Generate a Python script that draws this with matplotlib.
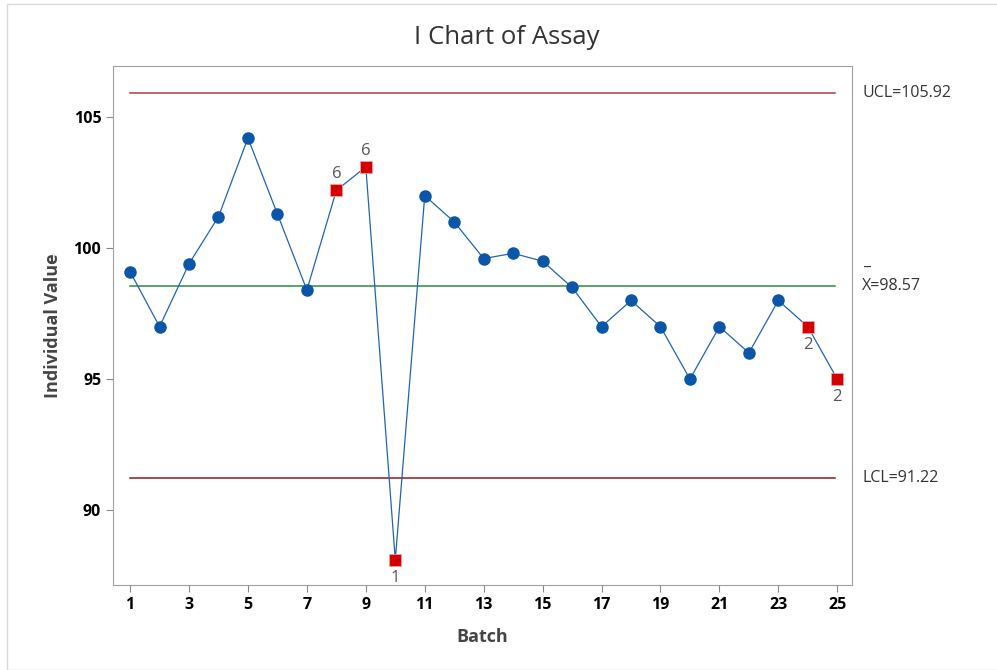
import matplotlib.pyplot as plt
from matplotlib.patches import Rectangle

plt.rcParams['font.family'] = ['Open Sans', 'DejaVu Sans']

# I chart data
batch = list(range(1, 26))
assay = [99.1, 97.0, 99.4, 101.2, 104.2, 101.3, 98.4, 102.2, 103.1, 88.1,
         102.0, 101.0, 99.6, 99.8, 99.5, 98.5, 97.0, 98.0, 97.0, 95.0,
         97.0, 96.0, 98.0, 97.0, 95.0]
ucl = 105.92
center = 98.57
lcl = 91.22

# failed tests: batch -> test number
flagged = {8: '6', 9: '6', 10: '1', 24: '2', 25: '2'}
label_above = [8, 9]

fig = plt.figure(figsize=(9.97, 6.70), dpi=100)
fig.patches.append(Rectangle((7/997, 0), 1, 1 - 4/670, transform=fig.transFigure,
                             fill=False, edgecolor='#d9d9d9', linewidth=1))
ax = fig.add_axes([113/997, 1 - 585/670, (852-113)/997, (585-66)/670])

ax.axhline(ucl, xmin=0.023, xmax=0.977, color='#b03a3a', lw=1.1)
ax.axhline(lcl, xmin=0.023, xmax=0.977, color='#8b1a1a', lw=1.1)
ax.axhline(center, xmin=0.023, xmax=0.977, color='#2f8a3e', lw=1.1)

ax.plot(batch, assay, color='#1f64b4', lw=0.9, zorder=2)
ok = [b for b in batch if b not in flagged]
ax.plot(ok, [assay[b-1] for b in ok], 'o', color='#0b56a6', ms=8, zorder=3)
bad = list(flagged)
ax.plot(bad, [assay[b-1] for b in bad], 's', color='#d40000', ms=8,
        mec='#f0a0a0', mew=0.6, zorder=3)
for b, t in flagged.items():
    if b in label_above:
        ax.annotate(t, (b, assay[b-1]), xytext=(0, 6), textcoords='offset points',
                    ha='center', va='bottom', color='#555555', fontsize=12)
    else:
        ax.annotate(t, (b, assay[b-1]), xytext=(0, -7.5), textcoords='offset points',
                    ha='center', va='top', color='#555555', fontsize=12)

ax.set_xlim(0.42, 25.5)
ax.set_ylim(87.14, 106.95)
ax.set_xticks(range(1, 26, 2))
ax.set_yticks([90, 95, 100, 105])
ax.tick_params(labelsize=11.5, colors='#888888', labelcolor='black', length=5)
for lab in ax.get_xticklabels() + ax.get_yticklabels():
    lab.set_fontweight('bold')
for sp in ax.spines.values():
    sp.set_color('#a0a0a0')

ax.set_xlabel('Batch', fontsize=13, color='#444444', fontweight='bold', labelpad=11)
ax.set_ylabel('Individual Value', fontsize=13, color='#444444', fontweight='bold', labelpad=8)
fig.text(0.508, 1 - 38/670, 'I Chart of Assay', ha='center', va='center',
         fontsize=18.5, color='#333333')

# control limit labels right of the plot
tx = (862 - 113) / (852 - 113)
ytr = ax.get_yaxis_transform()
ax.text(tx, ucl, 'UCL=105.92', transform=ytr, fontsize=11.5, va='center', color='#333333')
ax.text(tx, center, 'X=98.57', transform=ytr, fontsize=11.5, va='center', color='#333333')
ax.annotate('_', (tx, center), xycoords=ytr, xytext=(1, 11), textcoords='offset points',
            fontsize=11.5, va='bottom', color='#333333')
ax.text(tx, lcl, 'LCL=91.22', transform=ytr, fontsize=11.5, va='center', color='#333333')

fig.savefig('out.png', dpi=100)
